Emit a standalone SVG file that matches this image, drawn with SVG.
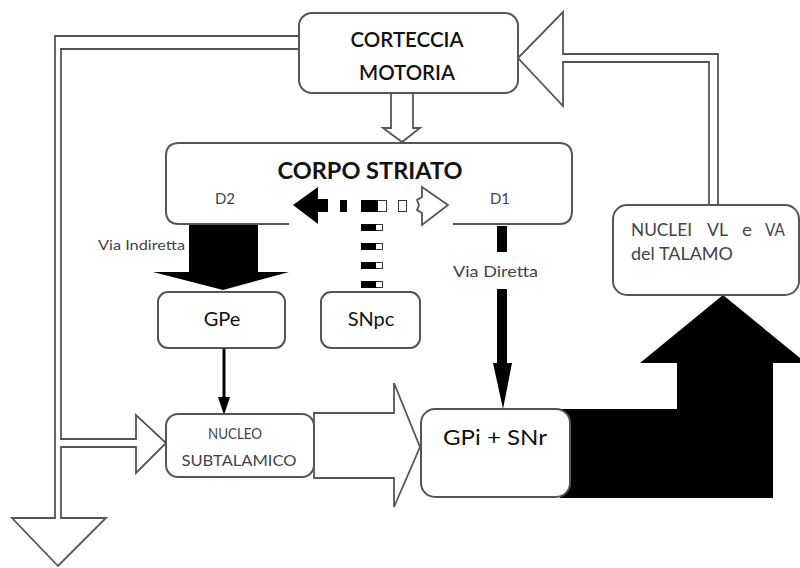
<svg xmlns="http://www.w3.org/2000/svg" width="800" height="568" viewBox="0 0 800 568">
<style>
.box{fill:#fff;stroke:#555;stroke-width:2}
.hollow{fill:#fff;stroke:#555;stroke-width:1.8;stroke-linejoin:miter}
.solid{fill:#000;stroke:none}
.t{font-family:Lato,"Open Sans","Liberation Sans",sans-serif;fill:#111}
.s{font-family:Lato,"Open Sans","Liberation Sans",sans-serif;fill:#444}
</style>
<rect width="800" height="568" fill="#fff"/>
<g id="connectors">
  <polygon class="hollow" points="299,36 55,36 55,518 12,518 58,566 106,518 61,518 61,447 136,447 136,473 166,443 136,415 136,439 61,439 61,49 299,49"/>
  <polygon class="hollow" points="709,205 709,62 563,62 563,106 518,58 563,12 563,54 718,54 718,205"/>
  <polygon class="hollow" points="391,93 391,128 383,128 402,142 420,128 413,128 413,93"/>
  <polygon class="hollow" points="314,413 394,413 394,383 420,447 394,507 394,478 314,478"/>
  <polygon class="solid" points="560,409 677,409 677,363 640,363 723,295 806,363 773,363 773,498 560,498"/>
  <polygon class="solid" points="189,223 258,223 258,272 289,272 223,290 153,272 189,272"/>
  <line x1="224" y1="348" x2="224" y2="400" stroke="#000" stroke-width="3"/>
  <polygon class="solid" points="218,397 230,397 224,415"/>
  <rect class="solid" x="497" y="226" width="10" height="26"/>
  <rect class="solid" x="497" y="289" width="10" height="76"/>
  <polygon class="solid" points="493,363 512,363 503,409"/>
  <text class="s" x="98" y="250" font-size="14" textLength="87" lengthAdjust="spacingAndGlyphs">Via Indiretta</text>
  <text class="s" x="453" y="277" font-size="15" textLength="85" lengthAdjust="spacingAndGlyphs">Via Diretta</text>
</g>
<g id="corteccia">
  <rect class="box" x="299" y="13" width="219" height="80" rx="13"/>
  <text class="t" x="407" y="47" font-size="21" font-weight="600" text-anchor="middle" textLength="113" lengthAdjust="spacingAndGlyphs">CORTECCIA</text>
  <text class="t" x="407" y="80" font-size="21" font-weight="600" text-anchor="middle" textLength="96" lengthAdjust="spacingAndGlyphs">MOTORIA</text>
</g>
<g id="striato">
  <path class="box" d="M289,224 H179 Q166,224 166,211 V156 Q166,143 179,143 H559 Q572,143 572,156 V211 Q572,224 559,224 H453"/>
  <text class="t" x="370" y="179" font-size="22" font-weight="bold" text-anchor="middle" textLength="185" lengthAdjust="spacingAndGlyphs">CORPO STRIATO</text>
  <text class="s" x="225" y="204" font-size="15" text-anchor="middle">D2</text>
  <text class="s" x="500" y="204" font-size="15" text-anchor="middle">D1</text>
</g>
<g id="dopamine">
  <polygon class="solid" points="293,205 318,187 318,199 328,199 328,212 318,212 318,224"/>
  <rect class="solid" x="340" y="200" width="7" height="12"/>
  <rect x="361.5" y="200.5" width="25" height="11" fill="#fff" stroke="#333" stroke-width="1"/>
  <rect class="solid" x="361" y="200" width="17" height="12"/>
  <rect x="398.5" y="200.5" width="8" height="11" fill="#fff" stroke="#333" stroke-width="1"/>
  <polygon class="hollow" points="422,187 448,205 422,225 422,213 417,210 419,205 417,200 422,197"/>
  <g fill="#fff" stroke="#333" stroke-width="1">
    <rect x="361.5" y="224.5" width="21" height="6"/>
    <rect x="361.5" y="243.5" width="21" height="6"/>
    <rect x="361.5" y="262.5" width="21" height="6"/>
    <rect x="361.5" y="281.5" width="21" height="6"/>
  </g>
  <g fill="#000">
    <rect x="361" y="224" width="15" height="7"/>
    <rect x="361" y="243" width="15" height="7"/>
    <rect x="361" y="262" width="15" height="7"/>
    <rect x="361" y="281" width="15" height="7"/>
  </g>
</g>
<g id="gpe">
  <rect class="box" x="158" y="292" width="127" height="56" rx="10"/>
  <text class="t" x="222" y="326" font-size="20" text-anchor="middle">GPe</text>
</g>
<g id="snpc">
  <rect class="box" x="321" y="292" width="99" height="56" rx="10"/>
  <text class="t" x="371" y="326" font-size="20" text-anchor="middle">SNpc</text>
</g>
<g id="nucleo">
  <rect class="box" x="166" y="414" width="148" height="63" rx="12"/>
  <text class="s" x="235" y="439" font-size="15" text-anchor="middle" textLength="54" lengthAdjust="spacingAndGlyphs">NUCLEO</text>
  <text class="s" x="239" y="466" font-size="15" text-anchor="middle" textLength="115" lengthAdjust="spacingAndGlyphs">SUBTALAMICO</text>
</g>
<g id="gpi">
  <rect class="box" x="421" y="409" width="149" height="88" rx="14"/>
  <text class="t" x="495" y="445" font-size="22" text-anchor="middle" textLength="104" lengthAdjust="spacingAndGlyphs">GPi + SNr</text>
</g>
<g id="talamo">
  <rect class="box" x="613" y="205" width="186" height="90" rx="14"/>
  <text class="s" x="631" y="236" font-size="18" textLength="61" lengthAdjust="spacingAndGlyphs">NUCLEI</text>
  <text class="s" x="707" y="236" font-size="18" textLength="21" lengthAdjust="spacingAndGlyphs">VL</text>
  <text class="s" x="742" y="236" font-size="18" textLength="10" lengthAdjust="spacingAndGlyphs">e</text>
  <text class="s" x="765" y="236" font-size="18" textLength="20" lengthAdjust="spacingAndGlyphs">VA</text>
  <text class="s" x="631" y="260" font-size="18" textLength="102" lengthAdjust="spacingAndGlyphs">del TALAMO</text>
</g>
</svg>
